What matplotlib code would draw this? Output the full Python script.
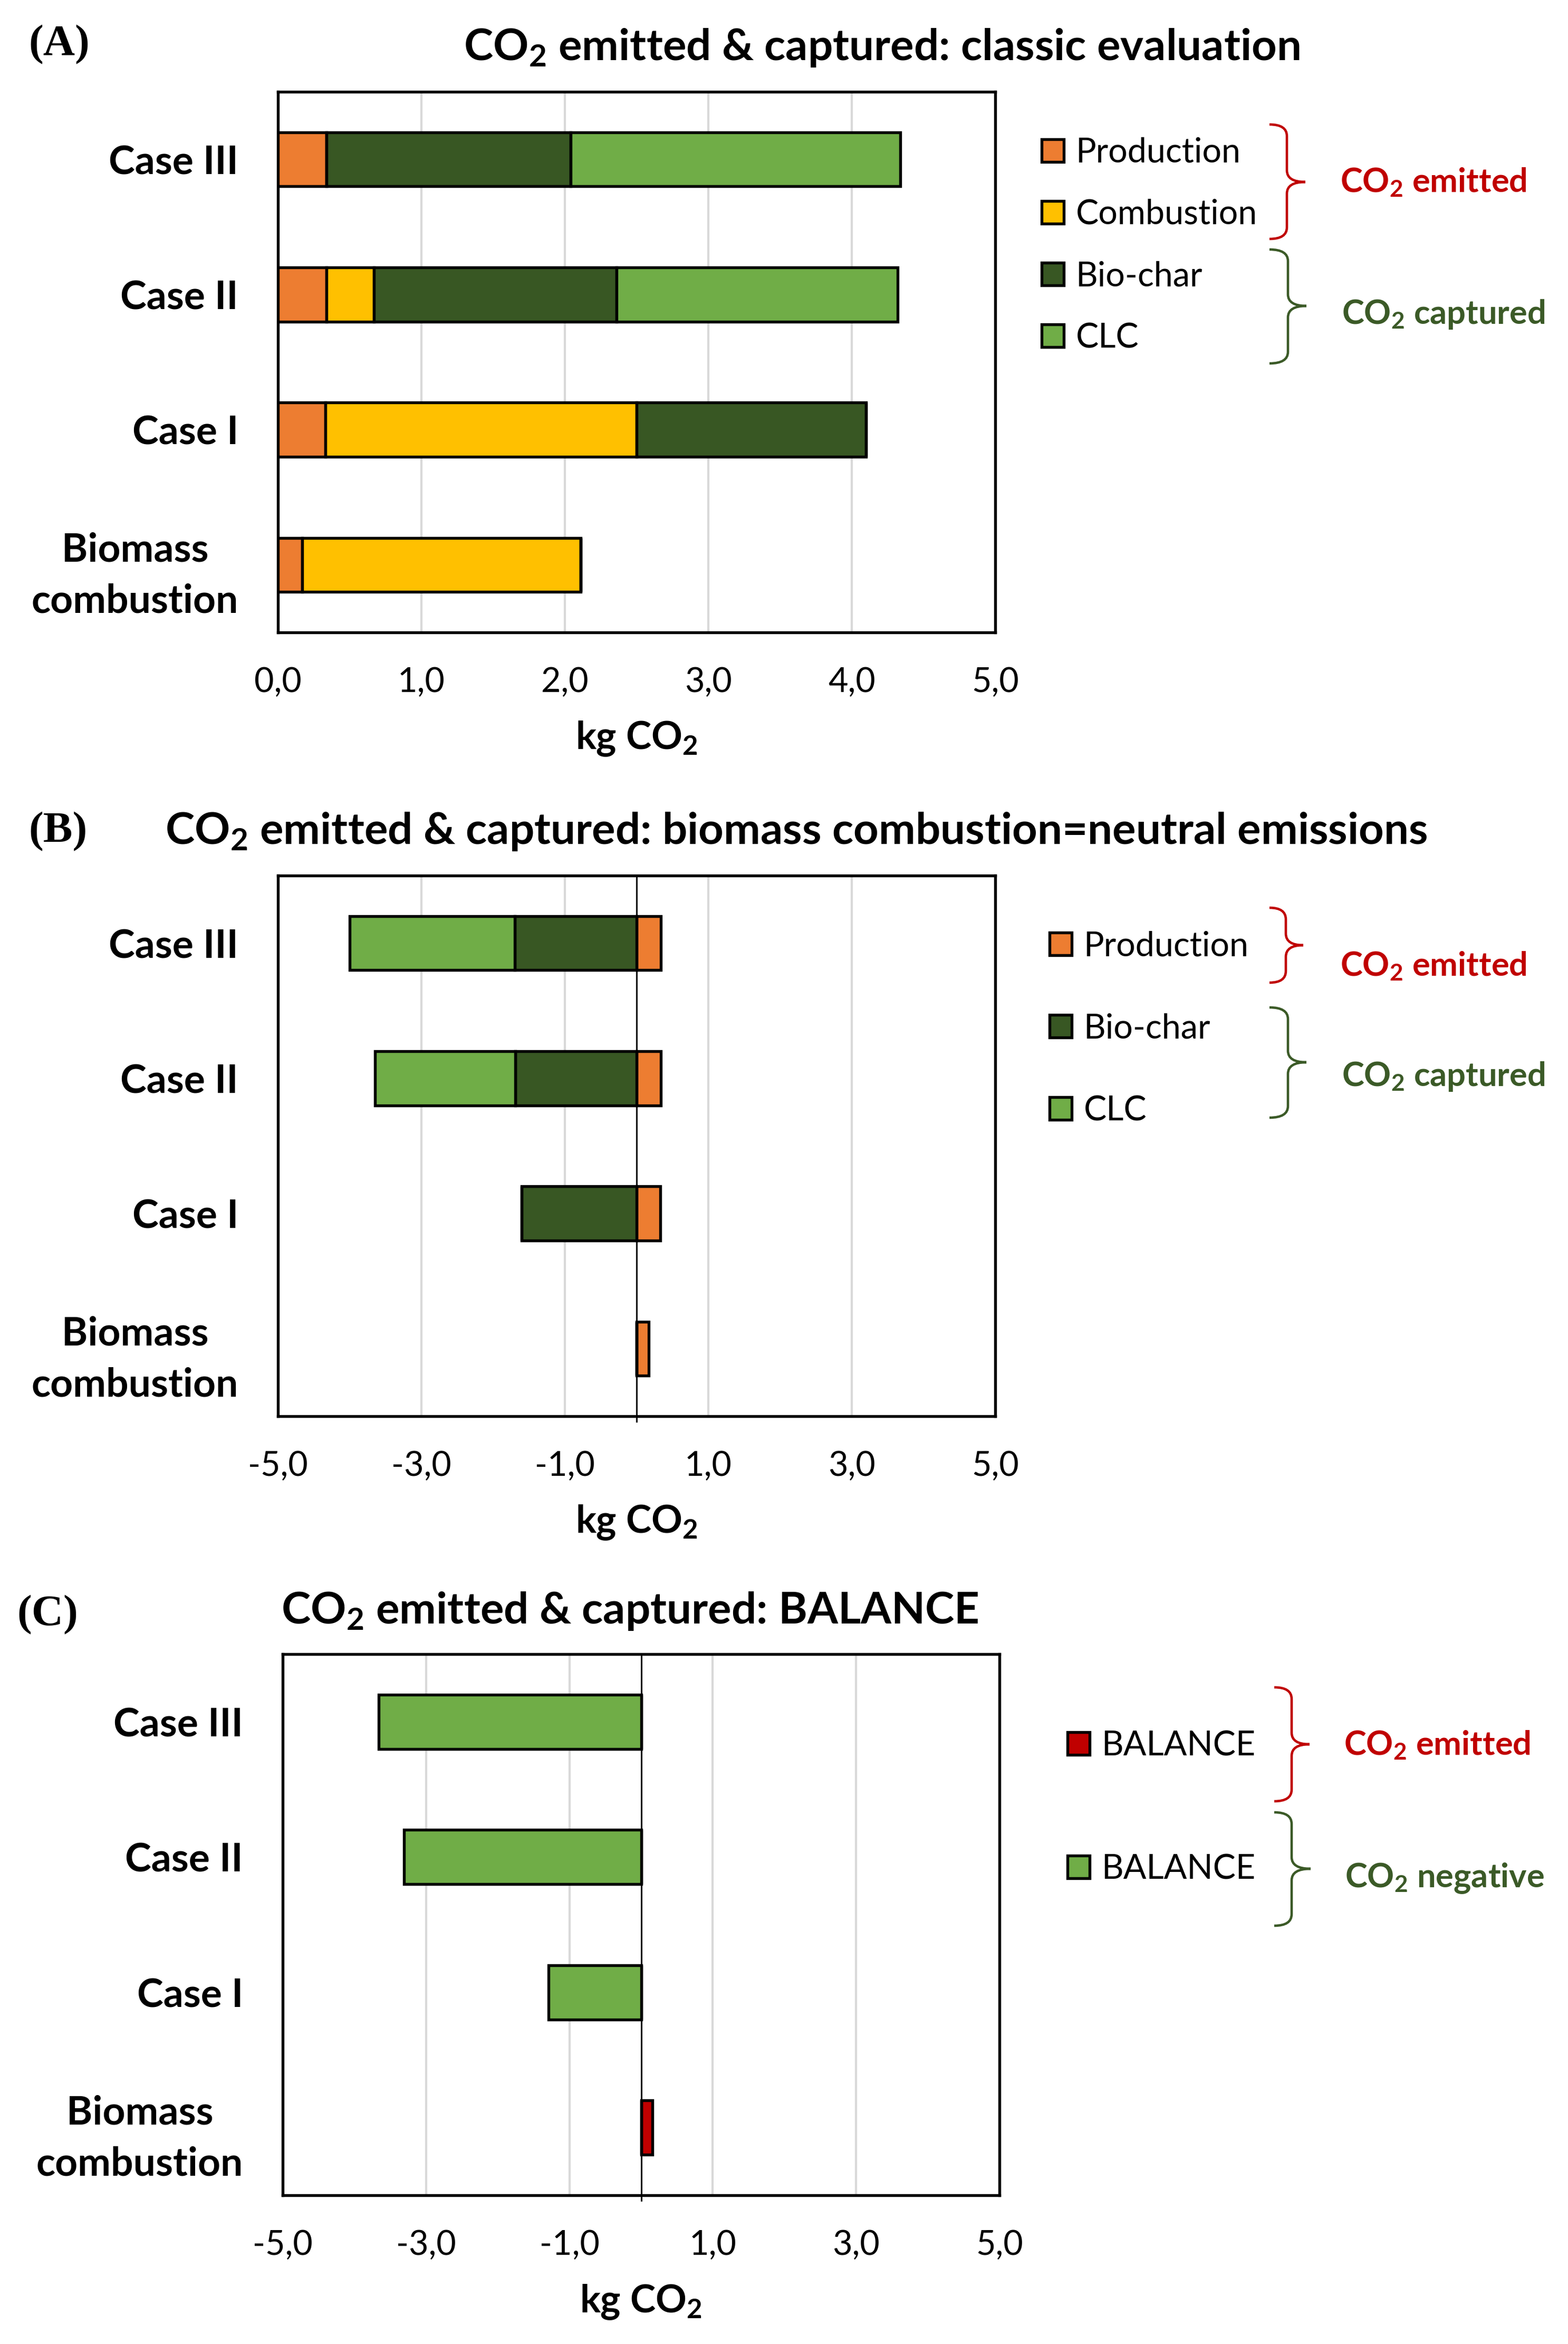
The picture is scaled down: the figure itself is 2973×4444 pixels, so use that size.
import matplotlib
matplotlib.use('Agg')
import matplotlib.pyplot as plt
from matplotlib.path import Path
from matplotlib.patches import PathPatch
from matplotlib.ticker import FuncFormatter
import numpy as np

# data (kg CO2), bottom to top
cases = ['Biomass\ncombustion', 'Case I', 'Case II', 'Case III']
production = np.array([0.17, 0.33, 0.34, 0.34])
combustion = np.array([1.94, 2.17, 0.33, 0.0])
biochar = np.array([0.0, 1.60, 1.69, 1.70])
clc = np.array([0.0, 0.0, 1.96, 2.30])
balance = np.array([0.16, -1.29, -3.31, -3.66])

C_PROD = '#ED7D31'
C_COMB = '#FFC000'
C_BIOC = '#385723'
C_CLC = '#70AD47'
C_RED = '#C00000'
C_GREEN = '#3B5A27'

W, H, DPI = 2973, 4444, 300
plt.rcParams['font.family'] = ['Lato', 'DejaVu Sans']
plt.rcParams['mathtext.default'] = 'regular'
plt.rcParams['axes.unicode_minus'] = False

fig = plt.figure(figsize=(W / DPI, H / DPI), dpi=DPI)


def px_axes(left, top, right, bottom):
    return fig.add_axes([left / W, 1 - bottom / H, (right - left) / W, (bottom - top) / H])


def style_axes(ax, xmin, xmax, step):
    ax.set_xlim(xmin, xmax)
    ax.set_ylim(-0.5, 3.5)
    ax.set_xticks(np.arange(xmin, xmax + 0.01, step))
    ax.xaxis.set_major_formatter(FuncFormatter(lambda v, p: f'{v:.1f}'.replace('.', ',')))
    ax.set_yticks(range(len(cases)))
    ax.set_yticklabels(cases, fontweight='bold', fontsize=18)
    for lbl in ax.get_yticklabels():
        lbl.set_multialignment('center')
        lbl.set_linespacing(1.5)
    ax.tick_params(axis='y', length=0, pad=18)
    ax.tick_params(axis='x', length=0, pad=15.5, labelsize=15.5)
    ax.xaxis.grid(True, color='#D9D9D9', lw=1.0)
    ax.set_axisbelow(True)
    for s in ax.spines.values():
        s.set_linewidth(1.3)
        s.set_color('black')
    ax.set_xlabel('kg CO$_2$', fontsize=17.5, fontweight='bold')
    ax.xaxis.set_label_coords(0.5, -0.197)
    ax.xaxis.label.set_va('center')


bar_kw = dict(height=0.4, edgecolor='black', linewidth=1.3, zorder=3)
leg_kw = dict(loc='center left', bbox_transform=fig.transFigure, frameon=False, fontsize=15.5,
              handlelength=0.65, handleheight=0.65, handletextpad=0.35,
              borderpad=0, borderaxespad=0)

# (A) classic evaluation
axA = px_axes(527, 174, 1887, 1199)
y = np.arange(len(cases))
hA = []
hA.append(axA.barh(y, production, color=C_PROD, label='Production', **bar_kw))
hA.append(axA.barh(y, combustion, left=production, color=C_COMB, label='Combustion', **bar_kw))
hA.append(axA.barh(y, biochar, left=production + combustion, color=C_BIOC, label='Bio-char', **bar_kw))
hA.append(axA.barh(y, clc, left=production + combustion + biochar, color=C_CLC, label='CLC', **bar_kw))
style_axes(axA, 0, 5, 1)
axA.legend(handles=hA, bbox_to_anchor=(1975 / W, 1 - 465 / H), labelspacing=0.90, **leg_kw)

# (B) biomass combustion = neutral
axB = px_axes(527, 1660, 1887, 2685)
hB = []
hB.append(axB.barh(y, production, color=C_PROD, label='Production', **bar_kw))
hB.append(axB.barh(y, -biochar, color=C_BIOC, label='Bio-char', **bar_kw))
hB.append(axB.barh(y, -clc, left=-biochar, color=C_CLC, label='CLC', **bar_kw))
style_axes(axB, -5, 5, 2)
axB.axvline(0, ymin=-0.01, ymax=1, color='black', lw=0.7, zorder=4, clip_on=False)
axB.legend(handles=hB, bbox_to_anchor=(1990 / W, 1 - 1950 / H), labelspacing=1.50, **leg_kw)

# (C) balance
axC = px_axes(536, 3136, 1895, 4162)
bal_pos = np.where(balance > 0, balance, 0)
bal_neg = np.where(balance < 0, balance, 0)
hC = []
hC.append(axC.barh(y, bal_pos, color=C_RED, label='BALANCE', **bar_kw))
hC.append(axC.barh(y, bal_neg, color=C_CLC, label='BALANCE', **bar_kw))
style_axes(axC, -5, 5, 2)
axC.axvline(0, ymin=-0.01, ymax=1, color='black', lw=0.7, zorder=4, clip_on=False)
axC.legend(handles=hC, bbox_to_anchor=(2024 / W, 1 - 3427 / H), labelspacing=2.71, **leg_kw)

# overlay in pixel coords for titles, panel letters and braces
ov = fig.add_axes([0, 0, 1, 1])
ov.set_xlim(0, W)
ov.set_ylim(H, 0)
ov.axis('off')


def brace(x_tip, x_spine, x_point, y0, y1, ym, color, r=22):
    verts = [(x_tip, y0), (x_spine, y0), (x_spine, y0 + r),
             (x_spine, ym - r), (x_spine, ym), (x_point, ym),
             (x_spine, ym), (x_spine, ym + r),
             (x_spine, y1 - r), (x_spine, y1), (x_tip, y1)]
    codes = [Path.MOVETO, Path.CURVE3, Path.CURVE3, Path.LINETO, Path.CURVE3, Path.CURVE3,
             Path.CURVE3, Path.CURVE3, Path.LINETO, Path.CURVE3, Path.CURVE3]
    ov.add_patch(PathPatch(Path(verts, codes), fill=False, edgecolor=color, lw=1.1))


def brace_label(x, y, text, color):
    ov.text(x, y, text, color=color, fontsize=15.2, fontweight='bold', ha='left', va='center')


title_kw = dict(fontsize=20, fontweight='bold', ha='center', va='center')
letter_kw = dict(fontsize=20, fontweight='bold', family='Liberation Serif', ha='left', va='center')

ov.text(54, 85, '(A)', **letter_kw)
ov.text(1672, 90, 'CO$_2$ emitted & captured: classic evaluation', **title_kw)
brace(2407, 2440, 2475, 236, 453, 345, C_RED)
brace(2407, 2442, 2477, 473, 689, 580, C_GREEN)
brace_label(2541, 346, 'CO$_2$ emitted', C_RED)
brace_label(2544, 596, 'CO$_2$ captured', C_GREEN)

ov.text(54, 1577, '(B)', **letter_kw)
ov.text(1510, 1576, 'CO$_2$ emitted & captured: biomass combustion=neutral emissions', **title_kw)
brace(2407, 2438, 2471, 1721, 1863, 1792, C_RED)
brace(2407, 2442, 2477, 1910, 2119, 2014, C_GREEN)
brace_label(2541, 1832, 'CO$_2$ emitted', C_RED)
brace_label(2544, 2041, 'CO$_2$ captured', C_GREEN)

ov.text(32, 3062, '(C)', **letter_kw)
ov.text(1194, 3054, 'CO$_2$ emitted & captured: BALANCE', **title_kw)
brace(2416, 2449, 2483, 3199, 3415, 3307, C_RED)
brace(2416, 2449, 2485, 3436, 3651, 3543, C_GREEN)
brace_label(2548, 3309, 'CO$_2$ emitted', C_RED)
brace_label(2550, 3561, 'CO$_2$ negative', C_GREEN)

fig.savefig('out.png', dpi=DPI)
